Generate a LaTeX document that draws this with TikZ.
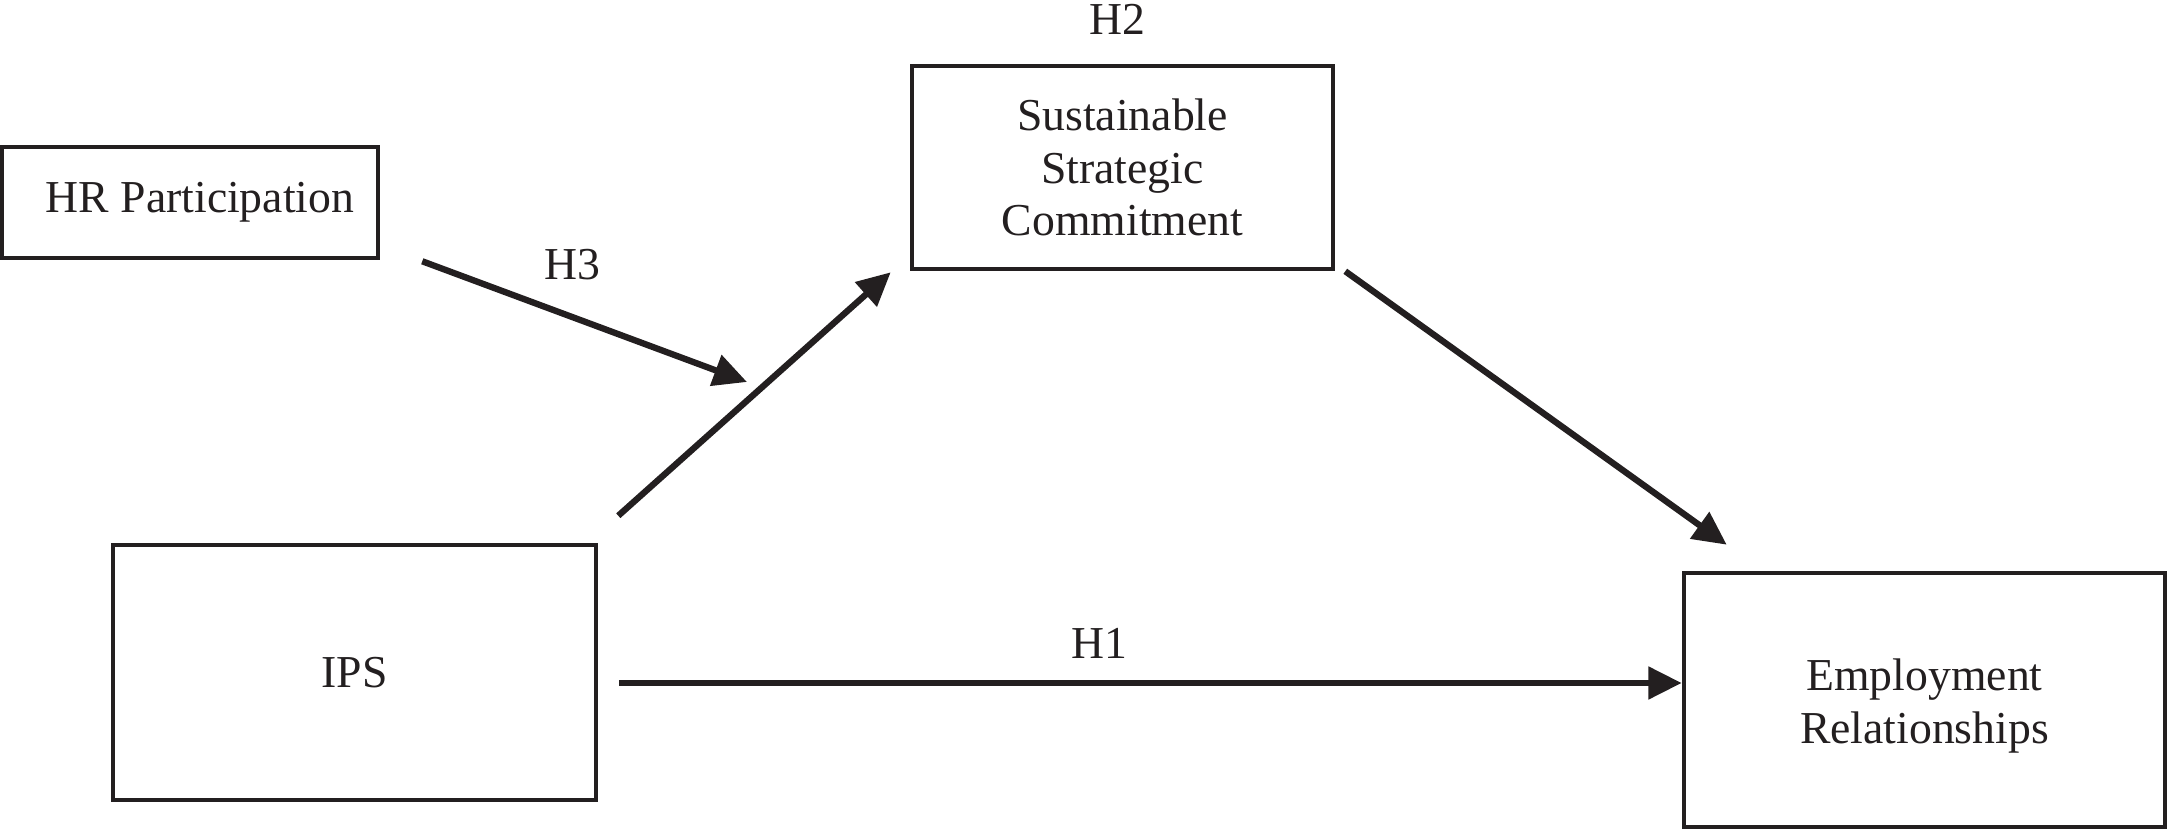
\documentclass[tikz,border=0pt]{standalone}
\usepackage{fontspec}
\setmainfont{Liberation Serif}
\usepackage{xcolor}
\usepackage{tikz}
\usetikzlibrary{positioning,arrows.meta}
\definecolor{InkBlack}{HTML}{231F20}

\begin{document}
\begin{tikzpicture}[every node/.style={font=\fontsize{13}{15}\selectfont, text=InkBlack},
                    >={Triangle[length=9.5pt,width=9pt]}]
    \tikzstyle{box}=[draw=InkBlack, line width=1.3pt, align=center, inner sep=0pt]
    \tikzstyle{link}=[->, line width=1.8pt, color=InkBlack]

    \useasboundingbox (0,0) rectangle (21.67,-8.29);

    \node[box, minimum width=3.76cm, minimum height=1.11cm] (hr) at (1.90,-2.025) {\hspace*{0.2cm}HR Participation};
    \node[box, minimum width=4.21cm, minimum height=2.03cm] (ssc) at (11.225,-1.675) {Sustainable\\ Strategic\\ Commitment};
    \node[box, minimum width=4.83cm, minimum height=2.55cm] (ips) at (3.545,-6.725) {IPS};
    \node[box, minimum width=4.81cm, minimum height=2.54cm] (er) at (19.245,-7.00) {\rule{0pt}{0.44cm}Employment\\ Relationships};

    \node (h1) at (10.99,-6.43) {H1};
    \node (h2) at (11.17,-0.19) {H2};
    \node (h3) at (5.72,-2.65) {H3};

    % free ends of the links
    \coordinate (hrOut) at ([shift={(0.42,-0.01)}]hr.south east);
    \coordinate (hrTip) at (7.47,-3.82);
    \coordinate (ipsTop) at ([shift={(0.20,0.27)}]ips.north east);
    \coordinate (ipsRight) at ([shift={(0.21,-0.105)}]ips.east);
    \coordinate (sscIn) at ([shift={(-0.19,-0.01)}]ssc.south west);
    \coordinate (sscOut) at ([shift={(0.10,0)}]ssc.south east);
    \coordinate (erIn) at ([shift={(0.45,0.26)}]er.north west);

    \draw[link] (ipsRight) -- (ipsRight -| er.west);
    \draw[link] (ipsTop) -- (sscIn);
    \draw[link] (sscOut) -- (erIn);
    \draw[link] (hrOut) -- (hrTip);

\end{tikzpicture}
\end{document}
